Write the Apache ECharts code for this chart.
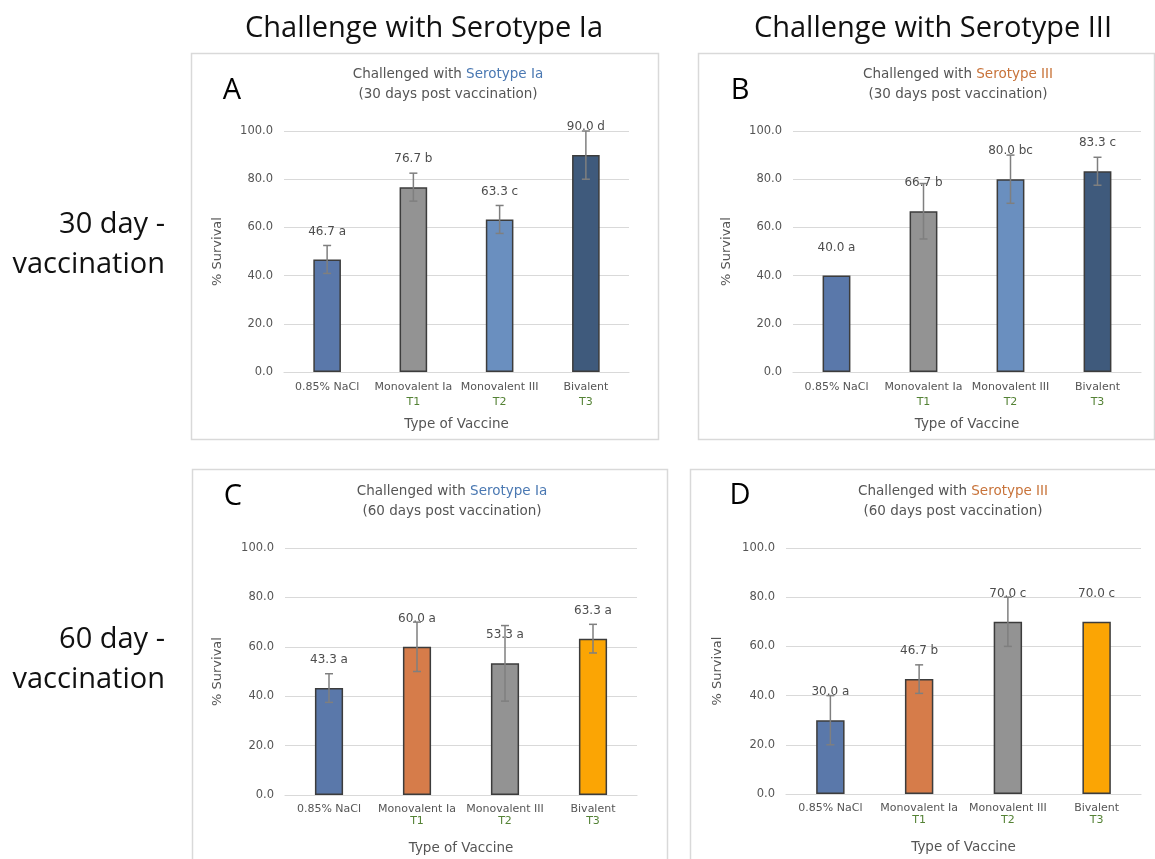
<!DOCTYPE html>
<html>
<head>
<meta charset="utf-8">
<script src="https://cdn.jsdelivr.net/npm/echarts@6/dist/echarts.min.js"></script>
<style>
  html, body { margin: 0; padding: 0; background: #fff; }
  #chart { width: 1155px; height: 859px; }
</style>
</head>
<body>
<div id="chart"></div>
<script>
// Vaccine groups on the x axis, with the treatment code shown under each
const categories = ['0.85% NaCl', 'Monovalent Ia', 'Monovalent III', 'Bivalent'];
const treatments = ['', 'T1', 'T2', 'T3'];
const yTicks = [0, 20, 40, 60, 80, 100];

// % survival, error (SD) and significance letters per panel
const survivalA = [46.7, 76.7, 63.3, 90.0];
const errorA = [5.8, 5.8, 5.8, 10.0];
const lettersA = ['a', 'b', 'c', 'd'];

const survivalB = [40.0, 66.7, 80.0, 83.3];
const errorB = [0, 11.5, 10.0, 5.8];
const lettersB = ['a', 'b', 'bc', 'c'];

const survivalC = [43.3, 60.0, 53.3, 63.3];
const errorC = [5.8, 10.0, 15.3, 5.8];
const lettersC = ['a', 'a', 'a', 'a'];

const survivalD = [30.0, 46.7, 70.0, 70.0];
const errorD = [10.0, 5.8, 10.0, 0];
const lettersD = ['a', 'b', 'c', 'c'];

const colors30 = ['#5a78aa', '#939393', '#6a8fbf', '#3f5a7c'];
const colors60 = ['#5a78aa', '#d67c4a', '#939393', '#fba504'];

const FONT = '"DejaVu Sans", "Noto Sans", sans-serif';
const HEAD_FONT = '"Open Sans", "Noto Sans", sans-serif';
const GREY = '#555555';
const GRID_LINE = '#d9d9d9';

const panels = [
  { letter: 'A', serotype: 'Serotype Ia', serColor: '#4a78b2', days: 30,
    values: survivalA, errors: errorA, letters: lettersA, colors: colors30,
    grid: { left: 284, top: 131, width: 345, height: 241 },
    box: [191, 53, 467, 386], letterPos: [232, 91], titleX: 443, titleY: 59,
    yNameGap: 60, xLineHeight: 15, xNameGap: 45 },
  { letter: 'B', serotype: 'Serotype III', serColor: '#c8733a', days: 30,
    values: survivalB, errors: errorB, letters: lettersB, colors: colors30,
    grid: { left: 793, top: 131, width: 348, height: 241 },
    box: [698, 53, 456, 386], letterPos: [740, 91], titleX: 953, titleY: 59,
    yNameGap: 60, xLineHeight: 15, xNameGap: 45 },
  { letter: 'C', serotype: 'Serotype Ia', serColor: '#4a78b2', days: 60,
    values: survivalC, errors: errorC, letters: lettersC, colors: colors60,
    grid: { left: 285, top: 548, width: 352, height: 247 },
    box: [192, 469, 475, 400], letterPos: [233, 497], titleX: 447, titleY: 476,
    yNameGap: 61, xLineHeight: 12, xNameGap: 46 },
  { letter: 'D', serotype: 'Serotype III', serColor: '#c8733a', days: 60,
    values: survivalD, errors: errorD, letters: lettersD, colors: colors60,
    grid: { left: 786, top: 548, width: 355, height: 246 },
    box: [690, 469, 475, 400], letterPos: [740, 496], titleX: 948, titleY: 476,
    yNameGap: 62, xLineHeight: 12, xNameGap: 46 }
];

function renderError(params, api) {
  const i = api.value(0), v = api.value(1), e = api.value(2);
  if (!e) return null;
  const top = api.coord([i, v + e]);
  const bot = api.coord([i, v - e]);
  const cap = 4;
  const style = { stroke: '#7f7f7f', lineWidth: 1.5 };
  return {
    type: 'group',
    children: [
      { type: 'line', shape: { x1: top[0], y1: top[1], x2: bot[0], y2: bot[1] }, style },
      { type: 'line', shape: { x1: top[0] - cap, y1: top[1], x2: top[0] + cap, y2: top[1] }, style },
      { type: 'line', shape: { x1: bot[0] - cap, y1: bot[1], x2: bot[0] + cap, y2: bot[1] }, style }
    ]
  };
}

const option = {
  backgroundColor: '#fff',
  animation: false,
  textStyle: { fontFamily: FONT },
  title: [],
  graphic: [],
  grid: [],
  xAxis: [],
  yAxis: [],
  series: []
};

// Column and row headings
const headFont = '400 29px ' + HEAD_FONT;
option.graphic.push(
  { type: 'text', x: 424, y: 29, style: { text: 'Challenge with Serotype Ia', font: headFont, fill: '#111', align: 'center', verticalAlign: 'middle' } },
  { type: 'text', x: 933, y: 29, style: { text: 'Challenge with Serotype III', font: headFont, fill: '#111', align: 'center', verticalAlign: 'middle' } },
  { type: 'text', x: 165, y: 225, style: { text: '30 day -', font: headFont, fill: '#111', align: 'right', verticalAlign: 'middle' } },
  { type: 'text', x: 165, y: 265, style: { text: 'vaccination', font: headFont, fill: '#111', align: 'right', verticalAlign: 'middle' } },
  { type: 'text', x: 165, y: 640, style: { text: '60 day -', font: headFont, fill: '#111', align: 'right', verticalAlign: 'middle' } },
  { type: 'text', x: 165, y: 680, style: { text: 'vaccination', font: headFont, fill: '#111', align: 'right', verticalAlign: 'middle' } }
);

panels.forEach((p, k) => {
  // panel frame
  option.graphic.push({
    type: 'rect', z: -1,
    shape: { x: p.box[0] + 0.5, y: p.box[1] + 0.5, width: p.box[2], height: p.box[3] },
    style: { fill: '#fff', stroke: '#d9d9d9', lineWidth: 1.5 }
  });
  // panel letter
  option.graphic.push({
    type: 'text', x: p.letterPos[0], y: p.letterPos[1],
    style: { text: p.letter, font: '400 29px ' + HEAD_FONT, fill: '#000', align: 'center', verticalAlign: 'middle' }
  });
  // chart title
  option.title.push({
    left: p.titleX, top: p.titleY, textAlign: 'center',
    text: '{g|Challenged with }{s|' + p.serotype + '}\n{g|(' + p.days + ' days post vaccination)}',
    textStyle: {
      fontWeight: 'normal',
      rich: {
        g: { fontFamily: FONT, fontSize: 13.5, fontWeight: 'normal', color: '#555555', lineHeight: 20 },
        s: { fontFamily: FONT, fontSize: 13.5, fontWeight: 'normal', color: p.serColor, lineHeight: 20 }
      }
    }
  });

  option.grid.push(Object.assign({ containLabel: false }, p.grid));

  option.xAxis.push({
    type: 'category', gridIndex: k, data: categories,
    axisLine: { show: true, lineStyle: { color: GRID_LINE, width: 1.2 } },
    axisTick: { show: false },
    axisLabel: {
      margin: 8, interval: 0,
      formatter: (v, i) => treatments[i] ? '{c|' + v + '}\n{t|' + treatments[i] + '}' : '{c|' + v + '}',
      rich: {
        c: { fontFamily: FONT, fontSize: 11, color: GREY, lineHeight: p.xLineHeight },
        t: { fontFamily: FONT, fontSize: 11, color: '#548235', lineHeight: p.xLineHeight }
      }
    },
    name: 'Type of Vaccine', nameLocation: 'middle', nameGap: p.xNameGap,
    nameTextStyle: { fontFamily: FONT, fontSize: 13.5, color: '#555555' }
  });

  option.yAxis.push({
    type: 'value', gridIndex: k, min: yTicks[0], max: yTicks[yTicks.length - 1],
    interval: yTicks[1] - yTicks[0],
    axisLine: { show: false }, axisTick: { show: false },
    splitLine: { lineStyle: { color: GRID_LINE, width: 1.2 } },
    axisLabel: { margin: 11, fontFamily: FONT, fontSize: 11.5, color: GREY, formatter: v => v.toFixed(1) },
    name: '% Survival', nameLocation: 'middle', nameRotate: 90, nameGap: p.yNameGap,
    nameTextStyle: { fontFamily: FONT, fontSize: 13, color: '#555555' }
  });

  option.series.push({
    type: 'bar', xAxisIndex: k, yAxisIndex: k, barWidth: '32%',
    data: p.values.map((v, i) => ({
      value: v,
      itemStyle: { color: p.colors[i], borderColor: '#3c3c3c', borderWidth: 1.5 }
    })),
    label: {
      show: true, position: 'top', distance: 22,
      fontFamily: FONT, fontSize: 12, color: '#4d4d4d',
      formatter: prm => p.values[prm.dataIndex].toFixed(1) + ' ' + p.letters[prm.dataIndex]
    }
  });

  option.series.push({
    type: 'custom', xAxisIndex: k, yAxisIndex: k, z: 5,
    renderItem: renderError,
    data: p.values.map((v, i) => [i, v, p.errors[i]])
  });
});

const chart = echarts.init(document.getElementById('chart'), null, { renderer: 'canvas' });
chart.setOption(option);
</script>
</body>
</html>
